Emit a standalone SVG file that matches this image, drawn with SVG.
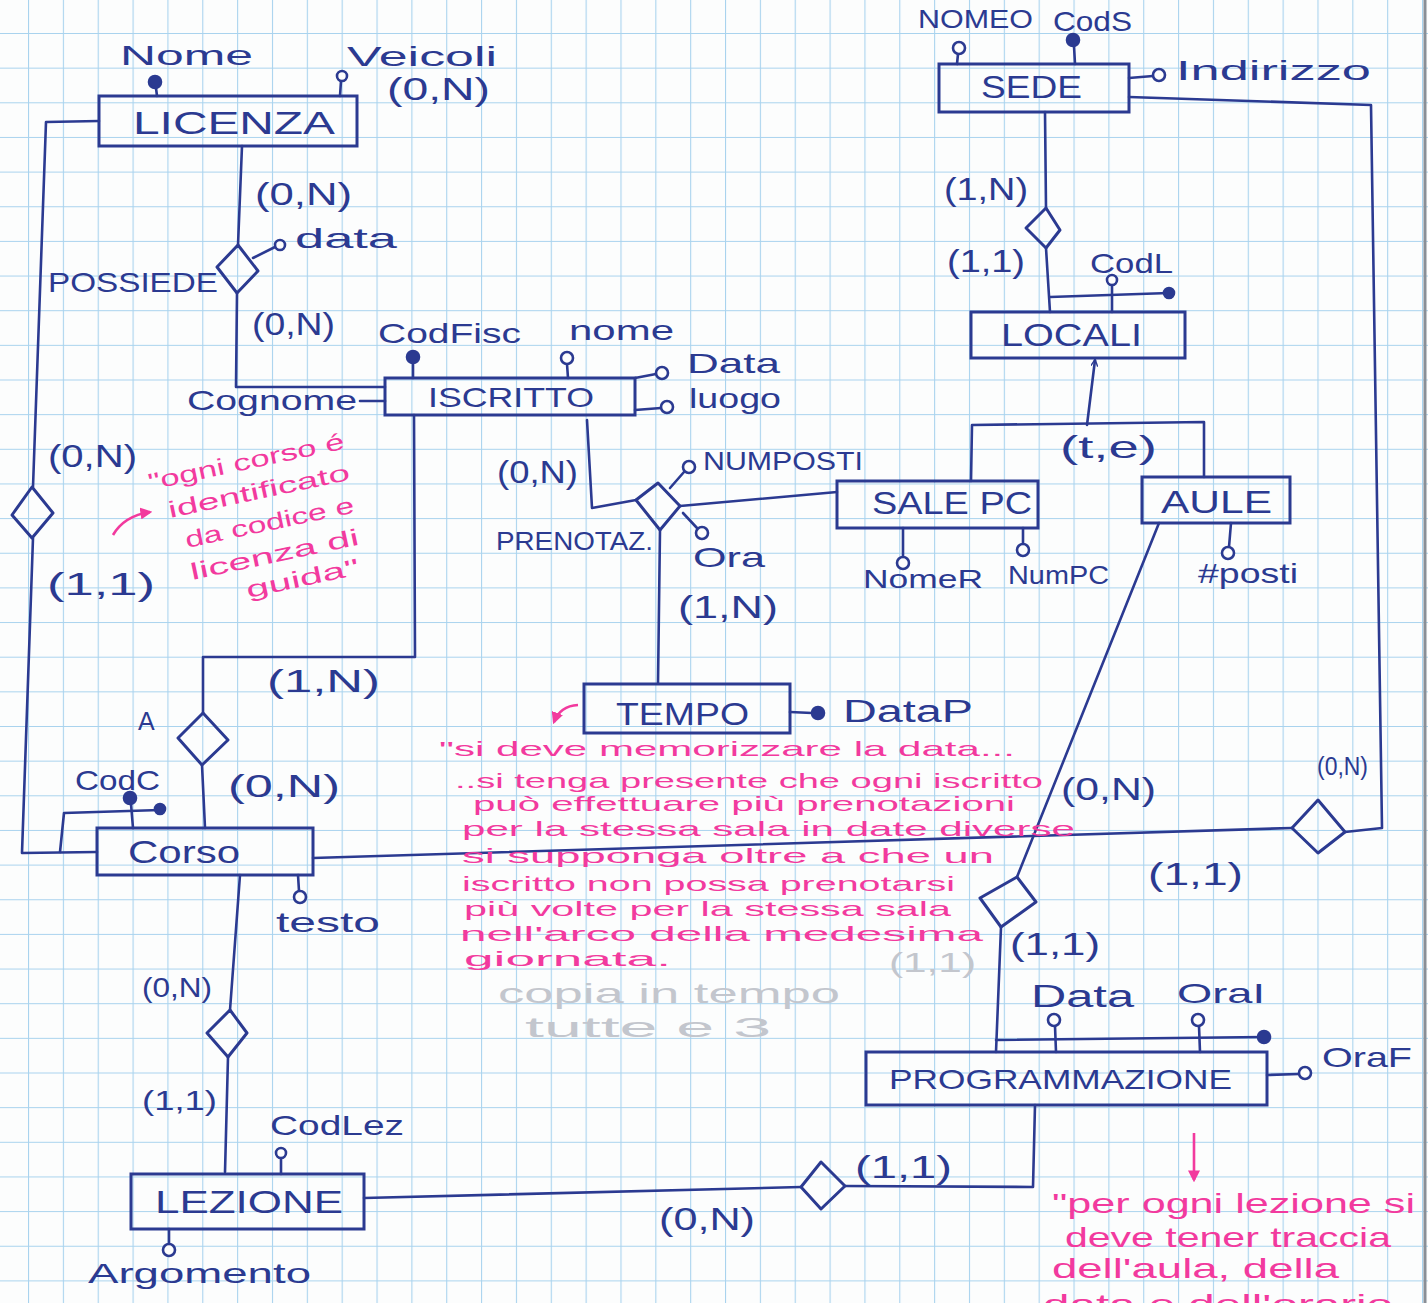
<svg xmlns="http://www.w3.org/2000/svg" width="1428" height="1303" viewBox="0 0 1428 1303">
<defs>
<pattern id="grid" width="34.85" height="34.65" patternUnits="userSpaceOnUse" x="28" y="33">
<path d="M0,0 V34.65 M0,0 H34.85" stroke="#a9d3ee" stroke-width="2.2" fill="none"/>
</pattern>
<marker id="ah" viewBox="0 0 10 10" refX="9" refY="5" markerWidth="7" markerHeight="7" orient="auto" markerUnits="userSpaceOnUse">
<path d="M0,0 L10,5 L0,10" fill="none" stroke="#2b3a91" stroke-width="2"/>
</marker>
<marker id="pah" viewBox="0 0 10 10" refX="8" refY="5" markerWidth="12" markerHeight="12" orient="auto" markerUnits="userSpaceOnUse">
<path d="M0,0 L10,5 L0,10 Z" fill="#f23a9e"/>
</marker>
<style>
.ent rect{fill:none;stroke:#2b3a91;stroke-width:3}
.rel polygon{fill:none;stroke:#2b3a91;stroke-width:3;stroke-linejoin:round}
.cn path,.at path{fill:none;stroke:#2b3a91;stroke-width:2.6;stroke-linecap:round;stroke-linejoin:round}
.at circle{fill:#fdfdfd;stroke:#2b3a91;stroke-width:2.6}
.at circle.k{fill:#2b3a91}
text{font-family:"Liberation Sans",Arial,sans-serif;fill:#2b3a91}
.en{font-size:31px}
.lb{font-size:28px}
.sm{font-size:25px}
.cd{font-size:32px}
.pk{fill:#f23a9e;font-size:23px}
.pk2{fill:#f23a9e;font-size:21px}
.pk3{fill:#f23a9e;font-size:28px}
.pa{fill:none;stroke:#f23a9e;stroke-width:2.6}
.gh{fill:#c3c6cd;font-size:28px}
</style>
</defs>
<rect x="0" y="0" width="1428" height="1303" fill="#fcfdfd"/>
<rect x="0" y="0" width="1428" height="1303" fill="url(#grid)"/>
<path d="M1425,0 V1303" stroke="#8a8f96" stroke-width="3"/>

<g id="connectors" class="cn">
<path d="M99,121 L46,122 L33,487"/>
<path d="M33,538 L22,853 L97,852"/>
<path d="M242,146 L238,245"/>
<path d="M237,293 L236,387 L385,387"/>
<path d="M414,415 L415,657 L203,657 L203,713"/>
<path d="M202,765 L205,828"/>
<path d="M587,420 L592,508 L636,500"/>
<path d="M680,506 L837,492"/>
<path d="M660,530 L658,683"/>
<path d="M1045,112 L1046,208"/>
<path d="M1046,248 L1050,312"/>
<path d="M1087,425 L1095,360" marker-end="url(#ah)"/>
<path d="M971,481 L972,425 L1204,422 L1204,477"/>
<path d="M1129,97 L1371,105 L1382,828 L1345,832"/>
<path d="M1292,828 L313,858"/>
<path d="M1159,523 L1017,877"/>
<path d="M1001,927 L996,1052"/>
<path d="M1035,1105 L1033,1187 L845,1186"/>
<path d="M801,1187 L364,1198"/>
<path d="M240,875 L230,1010"/>
<path d="M228,1057 L225,1172"/>
</g>

<g id="LICENZA" class="ent">
<rect x="99" y="96" width="258" height="50"/>
<text class="en" x="133" y="134" textLength="202" lengthAdjust="spacingAndGlyphs">LICENZA</text>
</g>
<g id="LICENZA-attrs" class="at">
<path d="M156,88 L157,96"/><circle class="k" cx="155" cy="82" r="6"/>
<text class="lb" x="120" y="65" textLength="133" lengthAdjust="spacingAndGlyphs">Nome</text>
<path d="M341,81 L340,96"/><circle cx="342" cy="76" r="5"/>
<text class="lb" x="347" y="66" textLength="150" lengthAdjust="spacingAndGlyphs">Veicoli</text>
<text class="cd" x="387" y="100" textLength="103" lengthAdjust="spacingAndGlyphs">(0,N)</text>
</g>

<g id="POSSIEDE" class="rel">
<polygon points="238,245 258,271 237,293 217,267"/>
<text class="lb" x="48" y="292" textLength="170" lengthAdjust="spacingAndGlyphs">POSSIEDE</text>
</g>
<g id="POSSIEDE-attrs" class="at">
<path d="M253,258 L275,247"/><circle cx="280" cy="245" r="5"/>
<text class="lb" x="295" y="248" textLength="102" lengthAdjust="spacingAndGlyphs">data</text>
</g>

<g id="ISCRITTO" class="ent">
<rect x="385" y="378" width="250" height="37"/>
<text class="lb" x="428" y="407" textLength="166" lengthAdjust="spacingAndGlyphs">ISCRITTO</text>
</g>
<g id="ISCRITTO-attrs" class="at">
<path d="M413,363 L413,378"/><circle class="k" cx="413" cy="357" r="6"/>
<text class="lb" x="378" y="343" textLength="143" lengthAdjust="spacingAndGlyphs">CodFisc</text>
<path d="M567,364 L568,378"/><circle cx="567" cy="358" r="6"/>
<text class="lb" x="569" y="340" textLength="105" lengthAdjust="spacingAndGlyphs">nome</text>
<path d="M635,378 L656,374"/><circle cx="662" cy="373" r="6"/>
<text class="lb" x="687" y="373" textLength="93" lengthAdjust="spacingAndGlyphs">Data</text>
<path d="M635,410 L661,408"/><circle cx="667" cy="407" r="6"/>
<text class="lb" x="689" y="408" textLength="92" lengthAdjust="spacingAndGlyphs">luogo</text>
<path d="M360,401 L385,401"/>
<text class="lb" x="187" y="410" textLength="170" lengthAdjust="spacingAndGlyphs">Cognome</text>
</g>

<g id="SEDE" class="ent">
<rect x="939" y="64" width="190" height="48"/>
<text class="en" x="981" y="98" textLength="101" lengthAdjust="spacingAndGlyphs">SEDE</text>
</g>
<g id="SEDE-attrs" class="at">
<path d="M958,54 L957,64"/><circle cx="959" cy="48" r="6"/>
<text class="sm" x="918" y="28" textLength="115" lengthAdjust="spacingAndGlyphs">NOMEO</text>
<path d="M1074,46 L1075,64"/><circle class="k" cx="1073" cy="40" r="6"/>
<text class="lb" x="1053" y="31" textLength="79" lengthAdjust="spacingAndGlyphs">CodS</text>
<path d="M1129,78 L1153,76"/><circle cx="1159" cy="75" r="6"/>
<text class="lb" x="1176" y="80" textLength="195" lengthAdjust="spacingAndGlyphs">Indirizzo</text>
</g>

<g id="SEDE-LOCALI" class="rel">
<polygon points="1046,208 1060,230 1046,248 1026,228"/>
</g>

<g id="LOCALI" class="ent">
<rect x="971" y="312" width="214" height="46"/>
<text class="en" x="1001" y="346" textLength="141" lengthAdjust="spacingAndGlyphs">LOCALI</text>
</g>
<g id="LOCALI-attrs" class="at">
<path d="M1050,297 L1169,293"/><circle class="k" cx="1169" cy="293" r="5"/>
<path d="M1112,285 L1112,312"/><circle cx="1112" cy="280" r="5"/>
<text class="lb" x="1090" y="273" textLength="83" lengthAdjust="spacingAndGlyphs">CodL</text>
</g>

<g id="SALE-PC" class="ent">
<rect x="837" y="481" width="201" height="47"/>
<text class="en" x="872" y="514" textLength="160" lengthAdjust="spacingAndGlyphs">SALE PC</text>
</g>
<g id="SALE-PC-attrs" class="at">
<path d="M903,528 L903,557"/><circle cx="903" cy="563" r="6"/>
<text class="sm" x="863" y="588" textLength="120" lengthAdjust="spacingAndGlyphs">NomeR</text>
<path d="M1023,528 L1023,544"/><circle cx="1023" cy="550" r="6"/>
<text class="sm" x="1008" y="584" textLength="101" lengthAdjust="spacingAndGlyphs">NumPC</text>
</g>

<g id="AULE" class="ent">
<rect x="1142" y="477" width="148" height="46"/>
<text class="en" x="1161" y="513" textLength="111" lengthAdjust="spacingAndGlyphs">AULE</text>
</g>
<g id="AULE-attrs" class="at">
<path d="M1231,523 L1229,547"/><circle cx="1228" cy="553" r="6"/>
<text class="lb" x="1198" y="583" textLength="100" lengthAdjust="spacingAndGlyphs">#posti</text>
</g>

<g id="PRENOTAZ" class="rel">
<polygon points="658,483 680,506 660,530 636,500"/>
<text class="sm" x="496" y="550" textLength="157" lengthAdjust="spacingAndGlyphs">PRENOTAZ.</text>
</g>
<g id="PRENOTAZ-attrs" class="at">
<path d="M670,488 L684,472"/><circle cx="689" cy="467" r="6"/>
<text class="sm" x="703" y="470" textLength="160" lengthAdjust="spacingAndGlyphs">NUMPOSTI</text>
<path d="M683,513 L697,528"/><circle cx="702" cy="533" r="6"/>
<text class="lb" x="693" y="567" textLength="72" lengthAdjust="spacingAndGlyphs">Ora</text>
</g>

<g id="TEMPO" class="ent">
<rect x="584" y="684" width="206" height="49"/>
<text class="en" x="616" y="725" textLength="133" lengthAdjust="spacingAndGlyphs">TEMPO</text>
</g>
<g id="TEMPO-attrs" class="at">
<path d="M790,712 L812,713"/><circle class="k" cx="818" cy="713" r="6"/>
<text class="en" x="843" y="722" textLength="130" lengthAdjust="spacingAndGlyphs">DataP</text>
</g>

<g id="LICENZA-CORSO" class="rel">
<polygon points="32,487 53,513 32,538 12,515"/>
</g>

<g id="A" class="rel">
<polygon points="203,713 228,740 202,765 178,738"/>
<text class="sm" x="138" y="730">A</text>
</g>

<g id="CORSO" class="ent">
<rect x="97" y="828" width="216" height="47"/>
<text class="cd" x="128" y="863" textLength="112" lengthAdjust="spacingAndGlyphs">Corso</text>
</g>
<g id="CORSO-attrs" class="at">
<path d="M131,804 L133,828"/><circle class="k" cx="130" cy="798" r="6"/>
<path d="M60,852 L64,813 L160,810"/><circle class="k" cx="160" cy="809" r="5"/>
<text class="lb" x="75" y="790" textLength="85" lengthAdjust="spacingAndGlyphs">CodC</text>
<path d="M298,875 L299,891"/><circle cx="300" cy="897" r="6"/>
<text class="lb" x="276" y="932" textLength="104" lengthAdjust="spacingAndGlyphs">testo</text>
</g>

<g id="SEDE-CORSO" class="rel">
<polygon points="1318,800 1345,832 1318,853 1292,828"/>
</g>

<g id="AULE-PROGRAMMAZIONE" class="rel">
<polygon points="1017,877 1036,902 1001,927 980,898"/>
</g>

<g id="PROGRAMMAZIONE" class="ent">
<rect x="866" y="1052" width="401" height="53"/>
<text class="lb" x="889" y="1089" textLength="343" lengthAdjust="spacingAndGlyphs">PROGRAMMAZIONE</text>
</g>
<g id="PROGRAMMAZIONE-attrs" class="at">
<path d="M996,1040 L1264,1037"/><circle class="k" cx="1264" cy="1037" r="6"/>
<path d="M1055,1026 L1056,1052"/><circle cx="1054" cy="1020" r="6"/>
<text class="en" x="1031" y="1007" textLength="103" lengthAdjust="spacingAndGlyphs">Data</text>
<path d="M1199,1026 L1200,1052"/><circle cx="1198" cy="1020" r="6"/>
<text class="lb" x="1177" y="1003" textLength="88" lengthAdjust="spacingAndGlyphs">OraI</text>
<path d="M1267,1075 L1299,1074"/><circle cx="1305" cy="1073" r="6"/>
<text class="lb" x="1322" y="1067" textLength="90" lengthAdjust="spacingAndGlyphs">OraF</text>
</g>

<g id="CORSO-LEZIONE" class="rel">
<polygon points="230,1010 247,1033 228,1057 207,1033"/>
</g>

<g id="PROGRAMMAZIONE-LEZIONE" class="rel">
<polygon points="821,1162 845,1186 821,1209 801,1187"/>
</g>

<g id="LEZIONE" class="ent">
<rect x="131" y="1174" width="233" height="55"/>
<text class="en" x="155" y="1213" textLength="188" lengthAdjust="spacingAndGlyphs">LEZIONE</text>
</g>
<g id="LEZIONE-attrs" class="at">
<path d="M281,1158 L281,1174"/><circle cx="281" cy="1153" r="5"/>
<text class="lb" x="270" y="1135" textLength="134" lengthAdjust="spacingAndGlyphs">CodLez</text>
<path d="M169,1229 L169,1244"/><circle cx="169" cy="1250" r="6"/>
<text class="lb" x="88" y="1283" textLength="223" lengthAdjust="spacingAndGlyphs">Argomento</text>
</g>

<g id="cardinalities">
<text class="cd" x="255" y="205" textLength="97" lengthAdjust="spacingAndGlyphs">(0,N)</text>
<text class="cd" x="252" y="335" textLength="83" lengthAdjust="spacingAndGlyphs">(0,N)</text>
<text class="cd" x="48" y="467" textLength="89" lengthAdjust="spacingAndGlyphs">(0,N)</text>
<text class="cd" x="47" y="595" textLength="108" lengthAdjust="spacingAndGlyphs">(1,1)</text>
<text class="cd" x="497" y="483" textLength="81" lengthAdjust="spacingAndGlyphs">(0,N)</text>
<text class="cd" x="678" y="618" textLength="100" lengthAdjust="spacingAndGlyphs">(1,N)</text>
<text class="cd" x="267" y="692" textLength="113" lengthAdjust="spacingAndGlyphs">(1,N)</text>
<text class="cd" x="228" y="797" textLength="112" lengthAdjust="spacingAndGlyphs">(0,N)</text>
<text class="cd" x="944" y="200" textLength="84" lengthAdjust="spacingAndGlyphs">(1,N)</text>
<text class="cd" x="947" y="272" textLength="78" lengthAdjust="spacingAndGlyphs">(1,1)</text>
<text class="cd" x="1060" y="458" textLength="97" lengthAdjust="spacingAndGlyphs">(t,e)</text>
<text class="sm" x="1317" y="775" textLength="51" lengthAdjust="spacingAndGlyphs">(0,N)</text>
<text class="cd" x="1061" y="800" textLength="95" lengthAdjust="spacingAndGlyphs">(0,N)</text>
<text class="cd" x="1148" y="885" textLength="95" lengthAdjust="spacingAndGlyphs">(1,1)</text>
<text class="cd" x="1010" y="955" textLength="90" lengthAdjust="spacingAndGlyphs">(1,1)</text>
<text class="lb" x="142" y="997" textLength="70" lengthAdjust="spacingAndGlyphs">(0,N)</text>
<text class="lb" x="142" y="1110" textLength="75" lengthAdjust="spacingAndGlyphs">(1,1)</text>
<text class="cd" x="855" y="1178" textLength="97" lengthAdjust="spacingAndGlyphs">(1,1)</text>
<text class="cd" x="659" y="1230" textLength="96" lengthAdjust="spacingAndGlyphs">(0,N)</text>
</g>

<g id="faint-notes">
<text class="gh" x="889" y="972" textLength="87" lengthAdjust="spacingAndGlyphs">(1,1)</text>
<text class="gh" x="498" y="1003" textLength="342" lengthAdjust="spacingAndGlyphs">copia in tempo</text>
<text class="gh" x="525" y="1037" textLength="246" lengthAdjust="spacingAndGlyphs">tutte e 3</text>
</g>

<g id="note-corso">
<path class="pa" d="M113,535 Q124,516 150,512" marker-end="url(#pah)"/>
<text class="pk" x="150" y="490" textLength="200" lengthAdjust="spacingAndGlyphs" transform="rotate(-12 150 490)">"ogni corso é</text>
<text class="pk" x="170" y="518" textLength="185" lengthAdjust="spacingAndGlyphs" transform="rotate(-12 170 518)">identificato</text>
<text class="pk" x="187" y="548" textLength="172" lengthAdjust="spacingAndGlyphs" transform="rotate(-12 187 548)">da codice e</text>
<text class="pk" x="192" y="580" textLength="172" lengthAdjust="spacingAndGlyphs" transform="rotate(-12 192 580)">licenza di</text>
<text class="pk" x="248" y="598" textLength="115" lengthAdjust="spacingAndGlyphs" transform="rotate(-12 248 598)">guida"</text>
</g>

<g id="note-tempo">
<path class="pa" d="M578,705 Q560,706 554,722" marker-end="url(#pah)"/>
<text class="pk2" x="439" y="756" textLength="576" lengthAdjust="spacingAndGlyphs">"si deve memorizzare la data...</text>
<text class="pk2" x="455" y="788" textLength="588" lengthAdjust="spacingAndGlyphs">..si tenga presente che ogni iscritto</text>
<text class="pk2" x="473" y="811" textLength="542" lengthAdjust="spacingAndGlyphs">può effettuare più prenotazioni</text>
<text class="pk2" x="462" y="836" textLength="613" lengthAdjust="spacingAndGlyphs">per la stessa sala in date diverse</text>
<text class="pk2" x="462" y="863" textLength="532" lengthAdjust="spacingAndGlyphs">si supponga oltre a che un</text>
<text class="pk2" x="462" y="891" textLength="493" lengthAdjust="spacingAndGlyphs">iscritto non possa prenotarsi</text>
<text class="pk2" x="464" y="916" textLength="487" lengthAdjust="spacingAndGlyphs">più volte per la stessa sala</text>
<text class="pk2" x="460" y="941" textLength="523" lengthAdjust="spacingAndGlyphs">nell'arco della medesima</text>
<text class="pk2" x="464" y="966" textLength="207" lengthAdjust="spacingAndGlyphs">giornata.</text>
</g>

<g id="note-lezione">
<path class="pa" d="M1194,1133 L1194,1180" marker-end="url(#pah)"/>
<text class="pk3" x="1052" y="1213" textLength="363" lengthAdjust="spacingAndGlyphs">"per ogni lezione si</text>
<text class="pk3" x="1065" y="1247" textLength="326" lengthAdjust="spacingAndGlyphs">deve tener traccia</text>
<text class="pk3" x="1052" y="1278" textLength="287" lengthAdjust="spacingAndGlyphs">dell'aula, della</text>
<text class="pk3" x="1043" y="1314" textLength="350" lengthAdjust="spacingAndGlyphs">data e dell'orario</text>
</g>
</svg>
